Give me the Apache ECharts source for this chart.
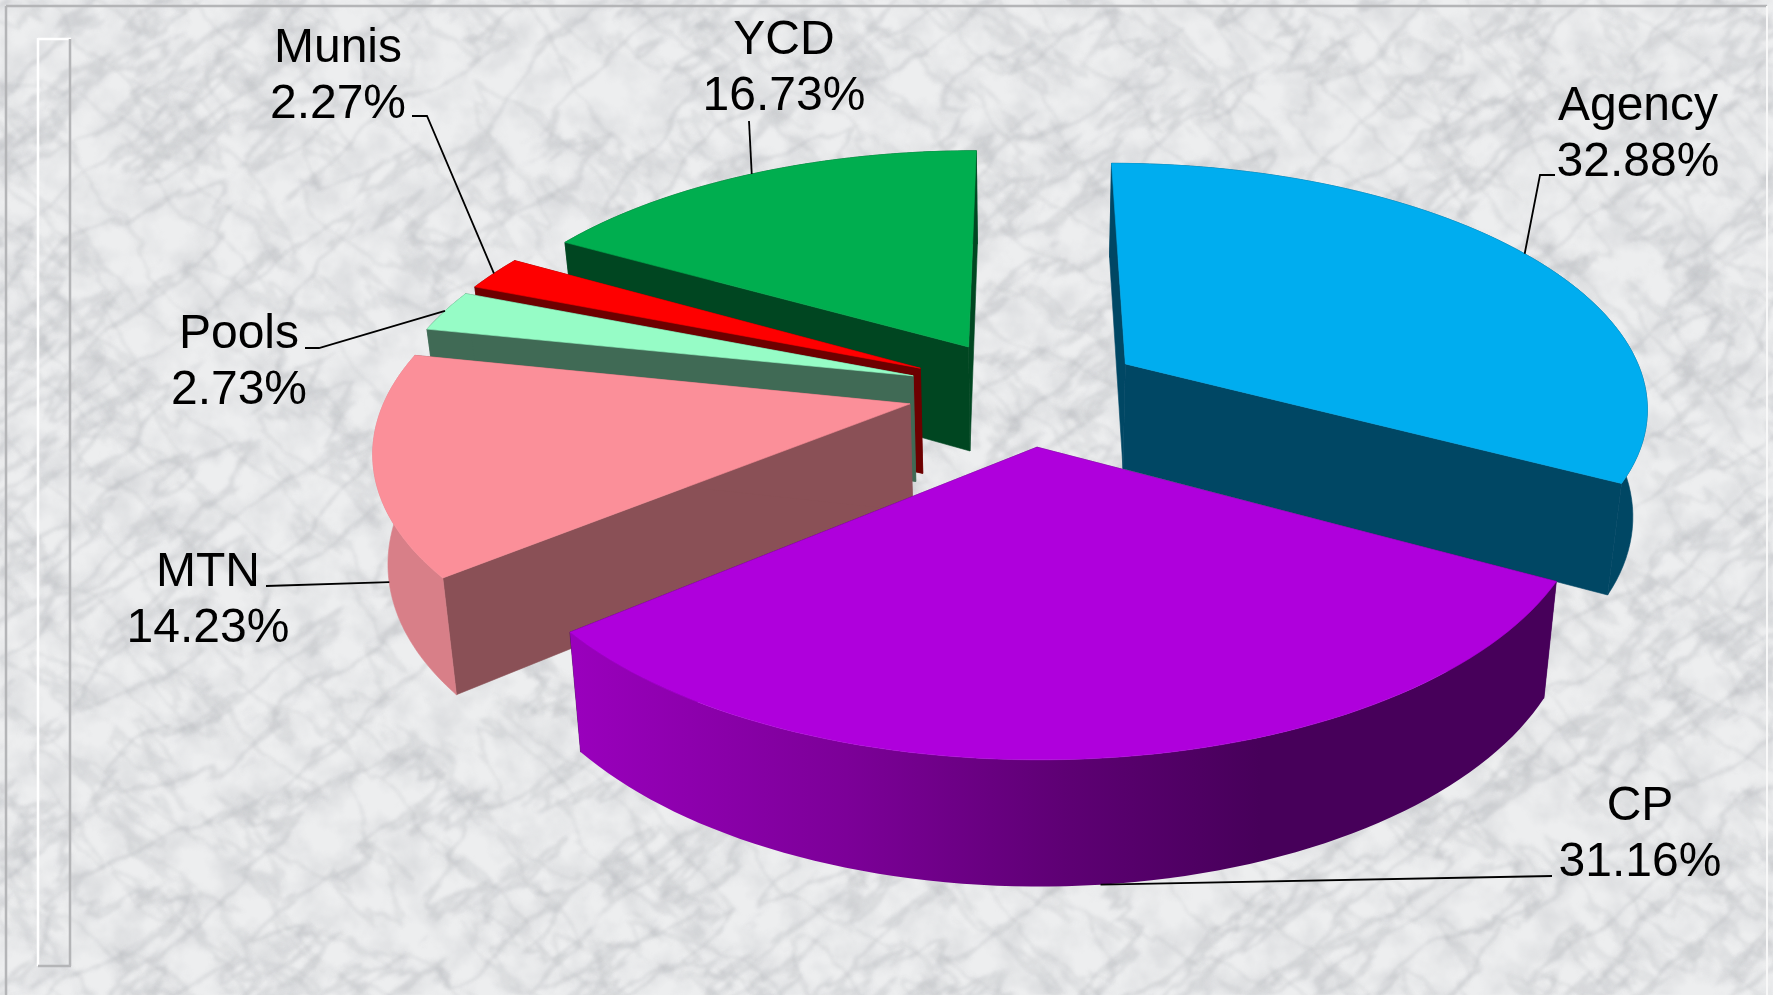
<!DOCTYPE html>
<html><head><meta charset="utf-8">
<style>html,body{margin:0;padding:0;width:1773px;height:995px;overflow:hidden;background:#ebecee}#c{position:absolute;left:0;top:0;width:1773px;height:995px}#m{position:absolute;left:0;top:0}</style>
<script src="https://cdn.jsdelivr.net/npm/echarts@6/dist/echarts.min.js"></script>
</head><body>
<svg id="m" xmlns="http://www.w3.org/2000/svg" width="1773" height="995">
<defs>
<filter id="a" filterUnits="userSpaceOnUse" x="-600" y="-600" width="3000" height="3000" color-interpolation-filters="sRGB">
<feTurbulence type="fractalNoise" baseFrequency=".006 .019" numOctaves="6" seed="4"/>
<feColorMatrix values="0 0 0 0 .60 0 0 0 0 .61 0 0 0 0 .63 1 0 0 0 0"/>
<feComponentTransfer><feFuncA type="table" tableValues="0 0 0 0 0 0 0 0 0 0 .27 0 0 0 0 0 0 0 0 0 0"/></feComponentTransfer>
<feGaussianBlur stdDeviation="1.7"/>
</filter>
<filter id="b" filterUnits="userSpaceOnUse" x="-600" y="-600" width="3000" height="3000" color-interpolation-filters="sRGB">
<feTurbulence type="fractalNoise" baseFrequency=".008 .02" numOctaves="6" seed="11"/>
<feColorMatrix values="0 0 0 0 .62 0 0 0 0 .63 0 0 0 0 .65 1 0 0 0 0"/>
<feComponentTransfer><feFuncA type="table" tableValues="0 0 0 0 0 0 0 0 0 0 .2 0 0 0 0 0 0 0 0 0 0"/></feComponentTransfer>
<feGaussianBlur stdDeviation="1.7"/>
</filter>
<filter id="d" filterUnits="userSpaceOnUse" x="0" y="0" width="1773" height="995" color-interpolation-filters="sRGB">
<feTurbulence type="fractalNoise" baseFrequency=".028" numOctaves="4" seed="7"/>
<feColorMatrix values="0 0 0 0 .72 0 0 0 0 .73 0 0 0 0 .75 1.4 0 0 0 -.55"/>
<feGaussianBlur stdDeviation="1"/>
</filter>
</defs>
<rect width="1773" height="995" fill="#edeeef"/>
<rect width="1773" height="995" filter="url(#d)" opacity=".5"/>
<rect x="-600" y="-600" width="3000" height="3000" filter="url(#a)" transform="rotate(-36 886 497)"/>
<rect x="-600" y="-600" width="3000" height="3000" filter="url(#b)" transform="rotate(42 886 497)"/>
</svg>
<div id="c"></div>
<script>
// ---- data ----
const categories = ['Agency', 'CP', 'MTN', 'Pools', 'Munis', 'YCD'];
const shares = [32.88, 31.16, 14.23, 2.73, 2.27, 16.73];

// ---- colours ----
const topColors  = ['#00adef', '#af00dc', '#fb8f99', '#96fcc6', '#fe0000', '#00ae4f'];
const wallColors = ['#004764', '#47005a', '#8a5056', '#406a55', '#6d0000', '#004621'];
const rimStops = [
  [[0, '#004764'], [1, '#004764']],
  [[0, '#9a00bd'], [0.28, '#7c0098'], [0.5, '#5e0074'], [0.7, '#47005a'], [1, '#47005a']],
  [[0, '#d87f88'], [1, '#d87f88']],
  [[0, '#406a55'], [1, '#406a55']],
  [[0, '#6d0000'], [1, '#6d0000']],
  [[0, '#004621'], [1, '#004621']]
];
// back-to-front painting order
const drawRank = [4, 5, 3, 2, 1, 0];

// ---- view: perspective projection of the exploded pie ----
const view = { cx: 1025, cy: 391, a: 541, e: 245, h: 0.165, ru: 0.965, rv: 0.985,
               depth: 105, depthGrow: 0.055, depthRef: 365, converge: 0.0234 };
const explode = [0.22, 0.222, 0.217, 0.218, 0.218, 0.214];

// ---- label layout ----
const labelCentres = [[1638, 135], [1640, 835], [208, 601], [239, 363], [338, 77], [784, 69]];
// leader: path from the text to the slice; z = 0 attaches to top rim, 1 to bottom rim
const leaderPaths = [
  { z: 0, via: [[1555, 175], [1540, 175]] },
  { z: 1, via: [[1552, 876]] },
  { z: 1.06, via: [[266, 586]] },
  { z: 0, via: [[305, 348], [319, 348]] },
  { z: 0, via: [[412, 116], [427, 116]] },
  { z: 0, via: [[749, 121]] }
];

function project(u, v, z) {
  const w = 1 + view.h * v;
  let x = view.cx + view.a * u / w;
  let y = view.cy - view.e * v / w;
  if (z) {
    const d = view.depth + view.depthGrow * (y - view.depthRef);
    x = view.cx + (x - view.cx) * (1 - view.converge * z);
    y = y + d * z;
  }
  return [x, y];
}

const total = shares.reduce((s, x) => s + x, 0);
const spans = [];
shares.reduce((acc, s) => {
  const end = acc + s / total * Math.PI * 2;
  spans.push([acc, end]);
  return end;
}, 0);

function rimPoint(ax, ay, t, z) {
  return project(ax + view.ru * Math.sin(t), ay + view.rv * Math.cos(t), z);
}

function renderItem(params) {
  const i = params.dataIndex;
  const [t0, t1] = spans[i];
  const mid = (t0 + t1) / 2;
  const ax = explode[i] * Math.sin(mid), ay = explode[i] * Math.cos(mid);
  const n = 72;
  const arcTop = [], arcBot = [];
  for (let k = 0; k <= n; k++) {
    const t = t0 + (t1 - t0) * k / n;
    arcTop.push(rimPoint(ax, ay, t, 0));
    arcBot.push(rimPoint(ax, ay, t, 1));
  }
  const apexTop = project(ax, ay, 0), apexBot = project(ax, ay, 1);
  const base = drawRank[i] * 10 + 1;
  const poly = (pts, fill, z2, stroke) => ({ type: 'polygon', z2, shape: { points: pts },
    style: { fill, stroke: stroke || null, lineWidth: 0.6 } });
  const stops = rimStops[i].map(s => ({ offset: s[0], color: s[1] }));
  const rimFill = new echarts.graphic.LinearGradient(0, 0, 1, 0, stops);
  const rimStroke = stops.length === 2 ? stops[0].color : null;
  const children = [
    poly([apexTop, arcTop[0], arcBot[0], apexBot], wallColors[i], base, wallColors[i]),
    poly([apexTop, arcTop[n], arcBot[n], apexBot], wallColors[i], base, wallColors[i]),
    poly(arcTop.concat(arcBot.slice().reverse()), rimFill, base + 1, rimStroke),
    poly([apexTop].concat(arcTop), topColors[i], base + 2, topColors[i])
  ];
  const lead = leaderPaths[i];
  const anchor = rimPoint(ax, ay, mid, lead.z);
  children.push({ type: 'polyline', z2: 200, shape: { points: lead.via.concat([anchor]) },
    style: { stroke: '#000', lineWidth: 1.8, fill: null } });
  children.push({ type: 'text', z2: 201, style: {
    text: categories[i] + '\n' + shares[i].toFixed(2) + '%',
    x: labelCentres[i][0], y: labelCentres[i][1],
    align: 'center', verticalAlign: 'middle', lineHeight: 56,
    font: '48px "Liberation Sans", Arial, sans-serif', fill: '#000' } });
  return { type: 'group', children };
}

const frameLine = (x1, y1, x2, y2, stroke, lineWidth) => ({ type: 'line', silent: true,
  shape: { x1, y1, x2, y2 }, style: { stroke, lineWidth } });

const chart = echarts.init(document.getElementById('c'), null, { renderer: 'canvas', width: 1773, height: 995 });
chart.setOption({
  backgroundColor: 'transparent',
  animation: false,
  graphic: [
    frameLine(6, 6, 1767, 6, '#b4b5b7', 2.5),
    frameLine(6, 6, 6, 995, '#b4b5b7', 2.5),
    frameLine(1767, 6, 1767, 995, '#f8f8f8', 2),
    frameLine(38, 39, 71, 39, '#ffffff', 2.5),
    frameLine(38, 38, 38, 966, '#ffffff', 2.5),
    frameLine(70, 39, 70, 966, '#b4b5b7', 2.5),
    frameLine(38, 966, 71, 966, '#b4b5b7', 2.5)
  ],
  series: [{
    type: 'custom',
    coordinateSystem: 'none',
    silent: true,
    data: shares.map((s, i) => ({ name: categories[i], value: [s] })),
    renderItem
  }]
});
</script>
</body></html>
